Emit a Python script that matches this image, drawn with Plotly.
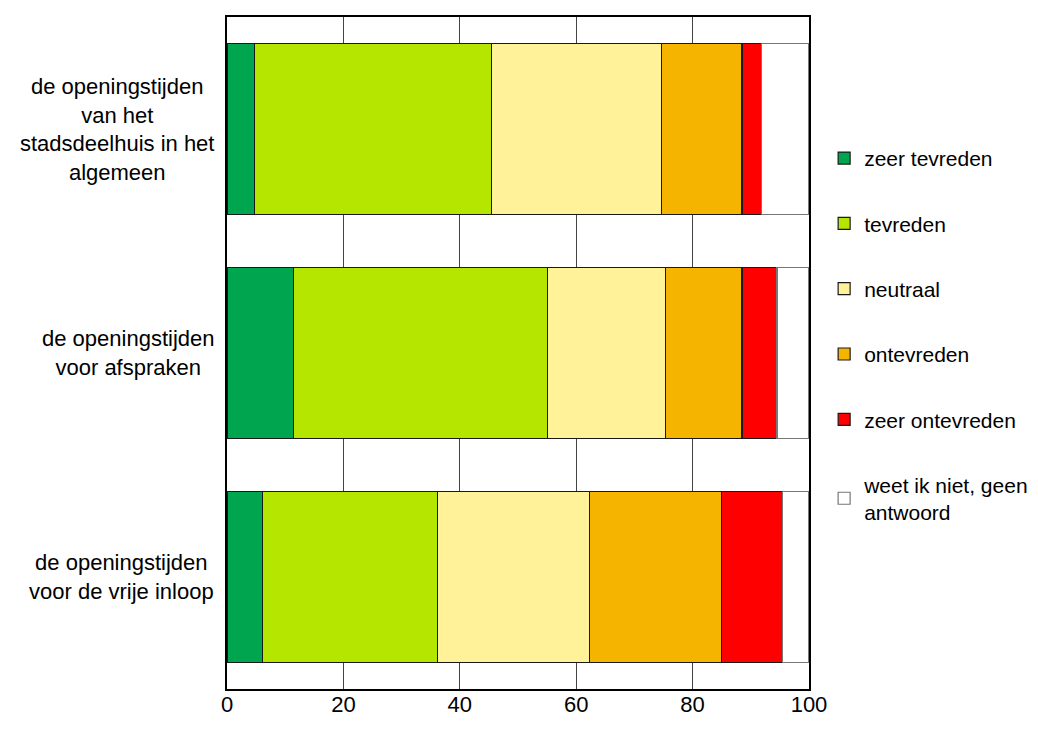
import plotly.graph_objects as go

categories = [
    "de openingstijden<br>van het<br>stadsdeelhuis in het<br>algemeen",
    "de openingstijden<br>voor afspraken",
    "de openingstijden<br>voor de vrije inloop",
]
series_names = ["zeer tevreden", "tevreden", "neutraal", "ontevreden",
                "zeer ontevreden", "weet ik niet, geen<br>antwoord"]
zeer_tevreden = [4.7, 11.4, 6.1]
tevreden = [40.7, 43.7, 30.1]
neutraal = [29.3, 20.2, 26.1]
ontevreden = [13.8, 13.2, 22.7]
zeer_ontevreden = [3.3, 6.0, 10.4]
weet_niet = [8.2, 5.5, 4.6]
x_ticks = [0, 20, 40, 60, 80, 100]

values = [zeer_tevreden, tevreden, neutraal, ontevreden, zeer_ontevreden, weet_niet]
colors = ["#00A54F", "#B5E600", "#FFF299", "#F5B400", "#FF0000", "#FFFFFF"]
outlines = ["#1a1a1a", "#1a1a1a", "#1a1a1a", "#1a1a1a", "#1a1a1a", "#777777"]

FONT = "Liberation Sans, Arial, sans-serif"
FS = 22
fig = go.Figure()
for i, (name, vals) in enumerate(zip(series_names, values)):
    fig.add_trace(go.Bar(
        y=categories, x=vals, name=name, orientation="h",
        marker=dict(color=colors[i], line=dict(color=outlines[i], width=1.2)),
        width=0.765, legendgroup=f"g{i}",
    ))

for c in categories:
    fig.add_annotation(x=0, xref="paper", y=c, yref="y", text=c,
                       xanchor="right", yanchor="middle", align="center",
                       xshift=-11, showarrow=False,
                       font=dict(family=FONT, size=FS, color="#000"))

fig.update_layout(
    width=1038, height=731,
    barmode="stack",
    paper_bgcolor="white", plot_bgcolor="white",
    margin=dict(l=219, r=237, t=7, b=50),
    font=dict(family=FONT, size=FS, color="#000"),
    showlegend=True,
    legend=dict(x=1.026, y=0.82, xanchor="left", yanchor="top",
                traceorder="grouped", tracegroupgap=35,
                font=dict(family=FONT, size=21, color="#000"),
                itemwidth=30),
    bargap=0.235,
)
fig.update_xaxes(range=[0, 100], tickvals=x_ticks, showgrid=True,
                 gridcolor="#444444", gridwidth=1, showline=True,
                 linecolor="#000", linewidth=1.5, mirror=True, ticks="",
                 zeroline=False, tickfont=dict(size=FS), ticklabelstandoff=-5)
fig.update_yaxes(categoryorder="array", categoryarray=categories,
                 autorange="reversed", showticklabels=False, showgrid=False,
                 showline=True, linecolor="#000", linewidth=1.5, mirror=True,
                 ticks="")
fig.write_html("out.html")
